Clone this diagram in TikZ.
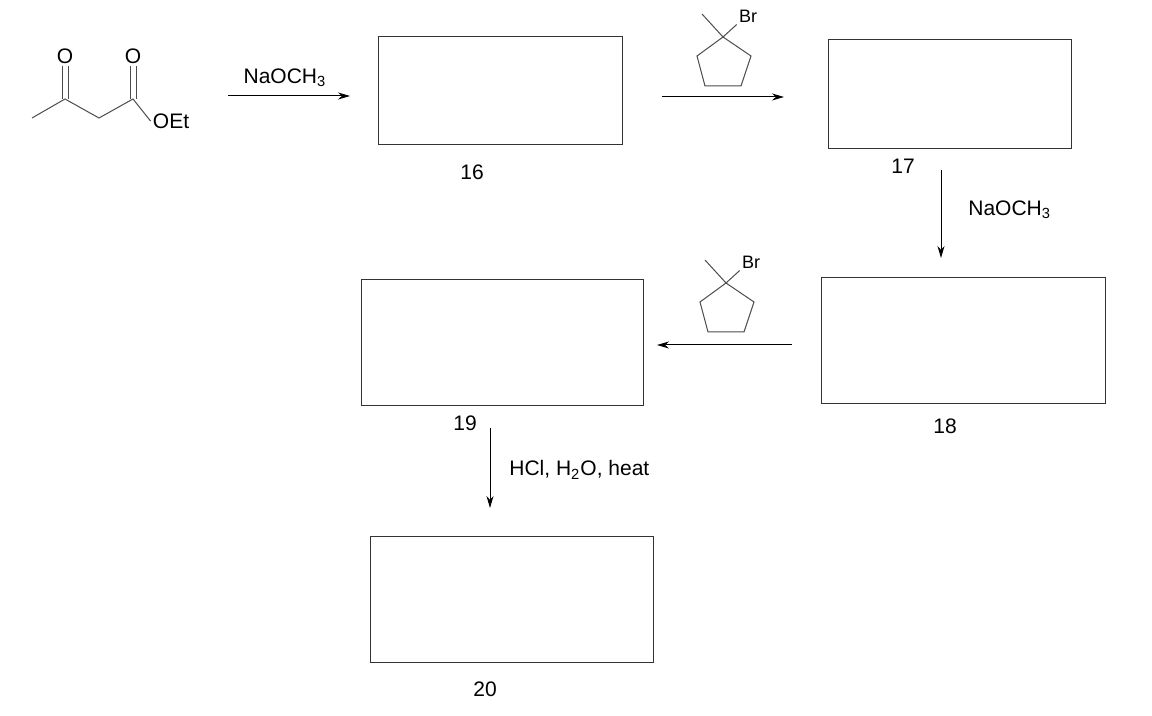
\documentclass[tikz,border=0pt]{standalone}
\usepackage{fontspec}
\setmainfont{Liberation Sans}
\usetikzlibrary{positioning,arrows.meta}

\begin{document}
\begin{tikzpicture}[x=0.5pt, y=-0.5pt,
every node/.style={font=\fontsize{10.5}{12}\selectfont, inner sep=1pt},
box/.style={rectangle, draw=black!80, line width=0.5pt},
bond/.style={draw=black!70, line width=0.5pt},
out_arrow/.style={-{Stealth[length=6pt, width=3.5pt]}, line width=0.5pt},
]
\useasboundingbox (0,0) rectangle (1152,716);

% ethyl acetoacetate
\coordinate (me) at (32,118);
\coordinate (ketone) at (65,99);
\coordinate (ch2) at (99,118);
\coordinate (ester) at (133,99);
\node (o_one) at (65,56) {O};
\node (o_two) at (133,56) {O};
\node (oet) at (171,121) {OEt};
\draw[bond] (me) -- (ketone) -- (ch2) -- (ester) -- (oet.west);
\draw[bond] ([xshift=-1.5pt]ketone) -- ([xshift=-1.5pt]o_one.south);
\draw[bond] ([xshift=1.5pt]ketone) -- ([xshift=1.5pt]o_one.south);
\draw[bond] ([xshift=-1.5pt]ester) -- ([xshift=-1.5pt]o_two.south);
\draw[bond] ([xshift=1.5pt]ester) -- ([xshift=1.5pt]o_two.south);

% boxes
\node[box, minimum width=122pt, minimum height=54pt](box_16) at (500,91) {};
\node[box, minimum width=121.5pt, minimum height=54.5pt](box_17) at (949.5,94.5) {};
\node[box, minimum width=142pt, minimum height=63pt](box_18) at (963,341) {};
\node[box, minimum width=141pt, minimum height=63pt](box_19) at (502,343) {};
\node[box, minimum width=141.5pt, minimum height=62.5pt](box_20) at (511.5,599.5) {};

\node (label_16) at (472,172) {16};
\node (label_17) at (903,166) {17};
\node (label_18) at (945,426) {18};
\node (label_19) at (465,423) {19};
\node (label_20) at (485,689) {20};

% reagent arrows
\coordinate (a1s) at (228,96); \coordinate (a1e) at (350,96);
\coordinate (a2s) at (662,97); \coordinate (a2e) at (784,97);
\coordinate (a3s) at (941,170); \coordinate (a3e) at (941,258);
\coordinate (a4s) at (792,345); \coordinate (a4e) at (657,345);
\coordinate (a5s) at (490,428); \coordinate (a5e) at (490,508);
\draw[out_arrow] (a1s) -- (a1e);
\draw[out_arrow] (a2s) -- (a2e);
\draw[out_arrow] (a3s) -- (a3e);
\draw[out_arrow] (a4s) -- (a4e);
\draw[out_arrow] (a5s) -- (a5e);

\node (naoch3_one) at (285,78) {NaOCH\textsubscript{3}};
\node[anchor=west] (naoch3_two) at (966,210) {NaOCH\textsubscript{3}};
\node[anchor=west] (hcl) at (507,470) {HCl, H\textsubscript{2}O, heat};

% 1-bromo-1-methylcyclopentane
\foreach \dx/\dy/\nm in {0/0/one, 3/246/two}{
  \begin{scope}[shift={(\dx,\dy)}]
    \node[font=\fontsize{9}{10}\selectfont] (br_\nm) at (748,16) {Br};
    \draw[bond] (702,14) -- (723,37) -- (br_\nm.south west);
    \draw[bond] (723,37) -- (751,56) -- (741,86) -- (705,86) -- (697,56) -- cycle;
  \end{scope}
}
\end{tikzpicture}
\end{document}
